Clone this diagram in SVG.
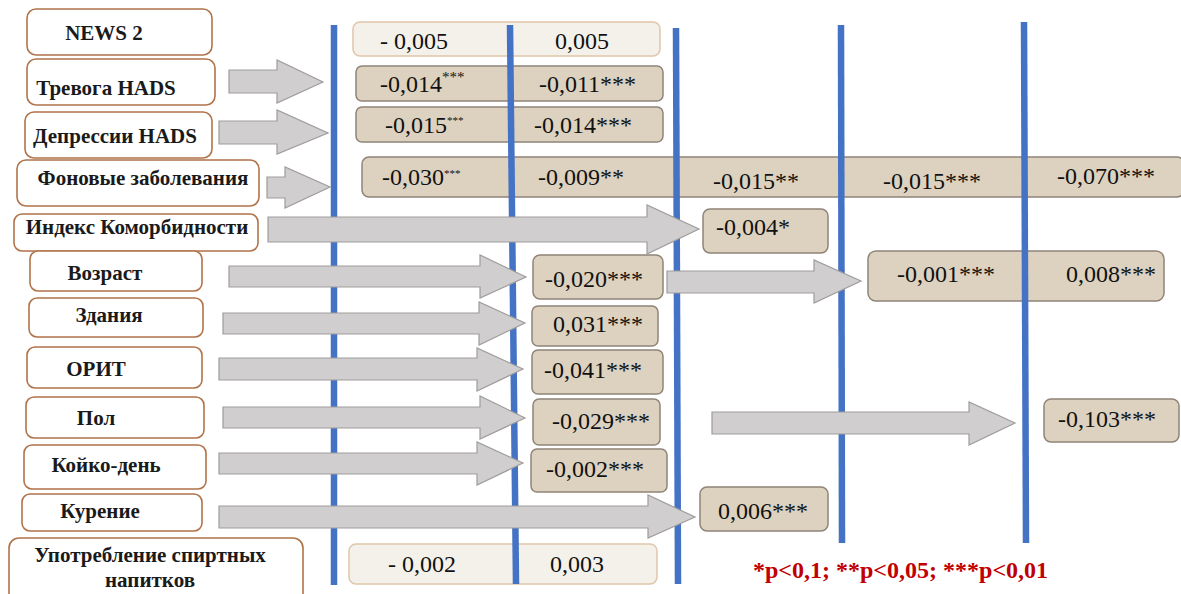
<svg xmlns="http://www.w3.org/2000/svg" width="1181" height="594" viewBox="0 0 1181 594">
  <style>
    .node rect { fill: #ffffff; stroke: #b0734a; stroke-width: 1.6; }
    .node text { font-weight: bold; font-size: 21px; fill: #1a1a1a; text-anchor: middle; }
    .val { fill: #ddd1bf; stroke: #8f8477; stroke-width: 1.5; }
    .val-light { fill: #f4f1eb; stroke: #e0c6aa; stroke-width: 1.5; }
    .num { font-size: 24px; fill: #111111; }
    .axis { stroke: #4472c4; stroke-width: 6.5; stroke-linecap: butt; }
    .arrow { fill: #d0cece; stroke: #a09c9c; stroke-width: 1.2; stroke-linejoin: miter; }
    .legend { font-weight: bold; font-size: 24px; fill: #c00000; }
  </style>

  <g font-family="Liberation Serif, DejaVu Serif, serif">
  <!-- value bands -->
  <g id="values">
    <rect class="val-light" x="353" y="22" width="307" height="34" rx="7"/>
    <text class="num" x="380" y="49">- 0,005</text>
    <text class="num" x="555" y="49">0,005</text>

    <rect class="val" x="356" y="66" width="307" height="35" rx="6"/>
    <text class="num" x="380" y="92">-0,014<tspan font-size="15" dy="-10">***</tspan></text>
    <text class="num" x="539" y="92">-0,011***</text>

    <rect class="val" x="356" y="107" width="307" height="35" rx="6"/>
    <text class="num" x="385" y="133">-0,015<tspan font-size="11" dy="-9">***</tspan></text>
    <text class="num" x="534" y="133">-0,014***</text>

    <rect class="val" x="362" y="157" width="822" height="40" rx="7"/>
    <text class="num" x="382" y="185">-0,030<tspan font-size="11" dy="-8">***</tspan></text>
    <text class="num" x="538" y="185">-0,009**</text>
    <text class="num" x="713" y="189">-0,015**</text>
    <text class="num" x="883" y="189">-0,015***</text>
    <text class="num" x="1057" y="184">-0,070***</text>

    <rect class="val" x="703" y="209" width="125" height="44" rx="7"/>
    <text class="num" x="716" y="235">-0,004*</text>

    <rect class="val" x="533" y="255" width="130" height="44" rx="7"/>
    <text class="num" x="545" y="287">-0,020***</text>

    <rect class="val" x="868" y="251" width="296" height="50" rx="8"/>
    <text class="num" x="897" y="282">-0,001***</text>
    <text class="num" x="1066" y="282">0,008***</text>

    <rect class="val" x="532" y="306" width="126" height="40" rx="6"/>
    <text class="num" x="553" y="332">0,031***</text>

    <rect class="val" x="532" y="350" width="131" height="44" rx="6"/>
    <text class="num" x="544" y="378">-0,041***</text>

    <rect class="val" x="533" y="399" width="127" height="46" rx="6"/>
    <text class="num" x="552" y="429">-0,029***</text>

    <rect class="val" x="531" y="449" width="136" height="43" rx="6"/>
    <text class="num" x="546" y="477">-0,002***</text>

    <rect class="val" x="1044" y="399" width="135" height="43" rx="7"/>
    <text class="num" x="1058" y="427">-0,103***</text>

    <rect class="val" x="700" y="487" width="128" height="44" rx="7"/>
    <text class="num" x="718" y="519">0,006***</text>

    <rect class="val-light" x="349" y="544" width="308" height="40" rx="7"/>
    <text class="num" x="388" y="572">- 0,002</text>
    <text class="num" x="550" y="572">0,003</text>
  </g>

  <!-- vertical axes -->
  <g id="axes">
    <line class="axis" x1="334" y1="25" x2="334" y2="585"/>
    <line class="axis" x1="510" y1="25" x2="516" y2="584"/>
    <line class="axis" x1="676" y1="28" x2="678" y2="584"/>
    <line class="axis" x1="841" y1="25" x2="842" y2="543"/>
    <line class="axis" x1="1024" y1="22" x2="1026" y2="543"/>
  </g>

  <!-- block arrows -->
  <g id="connectors">
    <polygon class="arrow" points="229,70 277,70 277,60 323,82 277,103 277,93 229,93"/>
    <polygon class="arrow" points="219,121 277,121 277,110 328,133 277,154 277,144 219,144"/>
    <polygon class="arrow" points="267,177 285,177 285,167 330,187 285,208 285,198 267,198"/>
    <polygon class="arrow" points="268,217 647,217 647,205 699,229 647,254 647,242 268,242"/>
    <polygon class="arrow" points="229,266 480,266 480,255 526,277 480,298 480,287 229,287"/>
    <polygon class="arrow" points="667,271 814,271 814,260 861,281 814,303 814,293 667,293"/>
    <polygon class="arrow" points="223,313 479,313 479,302 525,323 479,345 479,334 223,334"/>
    <polygon class="arrow" points="219,358 477,358 477,348 523,369 477,391 477,380 219,380"/>
    <polygon class="arrow" points="223,407 480,407 480,396 525,418 480,439 480,428 223,428"/>
    <polygon class="arrow" points="712,412 969,412 969,402 1015,423 969,445 969,434 712,434"/>
    <polygon class="arrow" points="219,453 477,453 477,442 523,463 477,485 477,474 219,474"/>
    <polygon class="arrow" points="219,506 648,506 648,495 695,517 648,538 648,528 219,528"/>
  </g>

  <!-- factor nodes -->
  <g id="news2" class="node">
    <rect x="27" y="9" width="185" height="46" rx="9"/>
    <text x="104" y="40" font-size="24">NEWS 2</text>
  </g>
  <g id="anxiety" class="node">
    <rect x="27" y="59" width="188" height="46" rx="9"/>
    <text x="106" y="95">Тревога HADS</text>
  </g>
  <g id="depression" class="node">
    <rect x="25" y="112" width="187" height="46" rx="9"/>
    <text x="115" y="143">Депрессии HADS</text>
  </g>
  <g id="background" class="node">
    <rect x="17" y="160" width="242" height="46" rx="9"/>
    <text x="143" y="185">Фоновые заболевания</text>
  </g>
  <g id="comorbidity" class="node">
    <rect x="14" y="214" width="244" height="37" rx="8"/>
    <text x="137" y="234">Индекс Коморбидности</text>
  </g>
  <g id="age" class="node">
    <rect x="30" y="251" width="172" height="40" rx="8"/>
    <text x="105" y="280">Возраст</text>
  </g>
  <g id="buildings" class="node">
    <rect x="29" y="298" width="174" height="39" rx="8"/>
    <text x="109" y="322">Здания</text>
  </g>
  <g id="icu" class="node">
    <rect x="27" y="347" width="175" height="41" rx="8"/>
    <text x="96" y="376">ОРИТ</text>
  </g>
  <g id="sex" class="node">
    <rect x="26" y="397" width="178" height="41" rx="8"/>
    <text x="96" y="425">Пол</text>
  </g>
  <g id="bedday" class="node">
    <rect x="24" y="445" width="182" height="44" rx="8"/>
    <text x="106" y="472">Койко-день</text>
  </g>
  <g id="smoking" class="node">
    <rect x="22" y="494" width="180" height="37" rx="8"/>
    <text x="100" y="518">Курение</text>
  </g>
  <g id="alcohol" class="node">
    <rect x="9" y="538" width="294" height="66" rx="10"/>
    <text x="150" y="562">Употребление спиртных</text>
    <text x="150" y="587">напитков</text>
  </g>

  <!-- significance legend -->
  <text class="legend" x="753" y="578">*p&lt;0,1; **p&lt;0,05; ***p&lt;0,01</text>
  </g>
</svg>
